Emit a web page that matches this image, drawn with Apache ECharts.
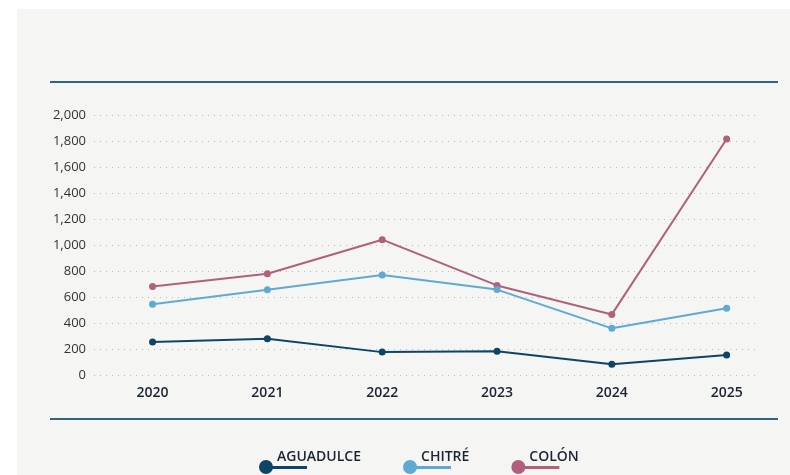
<!DOCTYPE html>
<html>
<head>
<meta charset="utf-8">
<script src="https://cdn.jsdelivr.net/npm/echarts@6/dist/echarts.min.js"></script>
<style>
  html, body { margin: 0; padding: 0; background: #ffffff; }
  #chart { width: 790px; height: 475px; }
</style>
</head>
<body>
<div id="chart"></div>
<script>
// datos
const years = [2020, 2021, 2022, 2023, 2024, 2025];
const aguadulce = [254, 278, 176, 183, 83, 154];
const chitre = [544, 656, 769, 657, 359, 513];
const colon = [680, 779, 1041, 689, 466, 1815];

const colors = ['#0e4466', '#5eaad3', '#b0607b'];
const names = ['AGUADULCE', 'CHITRÉ', 'COLÓN'];
const values = [aguadulce, chitre, colon];

const chart = echarts.init(document.getElementById('chart'));

// icono de la leyenda: círculo a la izquierda y una línea a la derecha
const legendIcon = 'path://M7,0 A7,7 0 1,1 6.99,0 Z M12,6 L48,6 L48,9 L12,9 Z';

chart.setOption({
  backgroundColor: '#ffffff',
  textStyle: { fontFamily: 'Open Sans' },
  graphic: [
    { type: 'rect', shape: { x: 17, y: 9, width: 773, height: 466 }, style: { fill: '#f5f5f3' }, z: -10 },
    { type: 'rect', shape: { x: 50, y: 81, width: 728, height: 2 }, style: { fill: '#2f6584' } },
    { type: 'rect', shape: { x: 50, y: 418, width: 728, height: 2 }, style: { fill: '#2f6584' } }
  ],
  grid: { left: 94, right: 32, top: 115, bottom: 100 },
  legend: {
    top: 443,
    left: 254,
    itemWidth: 48,
    itemHeight: 14,
    itemGap: 42,
    data: names.map((n, i) => ({ name: n, icon: legendIcon, itemStyle: { color: colors[i] } })),
    formatter: (name) => name + '\n ',
    textStyle: {
      fontFamily: 'Open Sans',
      fontWeight: 600,
      fontSize: 14,
      lineHeight: 19,
      color: '#1b2532',
      padding: [0, 0, 0, -35]
    }
  },
  xAxis: {
    type: 'value',
    min: 2019.49,
    max: 2025.273,
    axisLine: { show: false },
    axisTick: { show: false },
    splitLine: { show: false },
    axisLabel: {
      customValues: years,
      formatter: (v) => String(v),
      fontFamily: 'Open Sans',
      fontWeight: 600,
      fontSize: 14,
      color: '#1b2532',
      margin: 11
    }
  },
  yAxis: {
    type: 'value',
    min: 0,
    max: 2000,
    interval: 200,
    axisLine: { show: false },
    axisTick: { show: false },
    axisLabel: {
      formatter: (v) => v.toLocaleString('en-US'),
      fontFamily: 'Open Sans',
      fontSize: 13,
      color: '#333333',
      margin: 8
    },
    splitLine: { lineStyle: { color: '#b8b8b8', type: [1, 5], width: 1.2 } }
  },
  series: names.map((n, i) => ({
    name: n,
    type: 'line',
    data: years.map((y, j) => [y, values[i][j]]),
    symbol: 'circle',
    symbolSize: 7,
    lineStyle: { width: 2, color: colors[i] },
    itemStyle: { color: colors[i] },
    z: 3 - i
  }))
});
</script>
</body>
</html>
